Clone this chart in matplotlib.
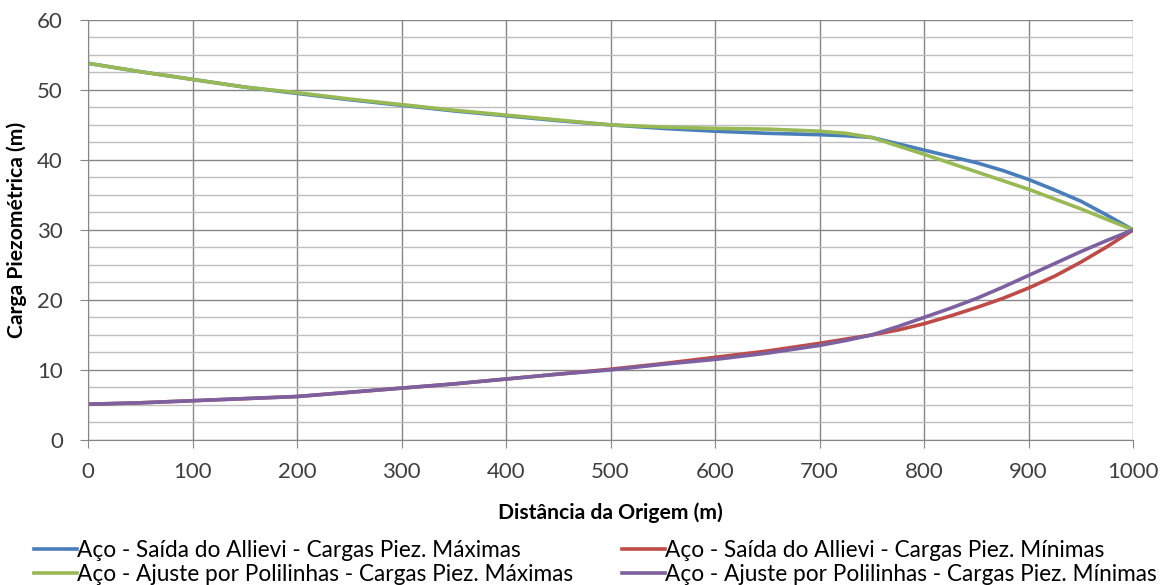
import matplotlib
matplotlib.use("Agg")
from matplotlib import pyplot as plt
from matplotlib.ticker import MultipleLocator

distancia = [0, 50, 100, 150, 200, 250, 300, 350, 400, 450, 500,
             550, 600, 650, 700, 725, 750, 775, 800, 825, 850, 875, 900,
             925, 950, 975, 1000]

allievi_max = [53.8, 52.6, 51.5, 50.4, 49.5, 48.6, 47.8, 47.0, 46.3, 45.6, 45.0,
               44.5, 44.1, 43.8, 43.6, 43.45, 43.2, 42.3, 41.4, 40.5, 39.6, 38.5, 37.2,
               35.7, 34.1, 32.1, 30.0]
allievi_min = [5.1, 5.3, 5.6, 5.9, 6.2, 6.8, 7.4, 8.0, 8.7, 9.4, 10.1,
               10.9, 11.8, 12.7, 13.8, 14.4, 15.0, 15.7, 16.6, 17.7, 18.9, 20.2, 21.7,
               23.4, 25.4, 27.6, 30.0]
polilinhas_max = [53.8, 52.6, 51.5, 50.4, 49.6, 48.7, 47.9, 47.1, 46.4, 45.7, 45.0,
                  44.7, 44.5, 44.4, 44.1, 43.8, 43.2, 42.0, 40.8, 39.55, 38.3, 37.05, 35.8,
                  34.4, 33.0, 31.5, 30.0]
polilinhas_min = [5.1, 5.3, 5.6, 5.9, 6.2, 6.8, 7.4, 8.0, 8.7, 9.4, 10.0,
                  10.8, 11.5, 12.4, 13.5, 14.2, 15.0, 16.2, 17.5, 18.8, 20.2, 21.8, 23.5,
                  25.2, 26.9, 28.5, 30.0]

rotulos = [
    "Aço - Saída do Allievi - Cargas Piez. Máximas",
    "Aço - Saída do Allievi - Cargas Piez. Mínimas",
    "Aço - Ajuste por Polilinhas - Cargas Piez. Máximas",
    "Aço - Ajuste por Polilinhas - Cargas Piez. Mínimas",
]

plt.rcParams['font.family'] = ['Lato', 'DejaVu Sans']

fig = plt.figure(figsize=(11.67, 5.85), dpi=100)
ax = fig.add_axes([0.0754, 0.248, 0.8956, 0.718])

l1, = ax.plot(distancia, allievi_max, color='#4A7EBB', lw=2.6)
l2, = ax.plot(distancia, allievi_min, color='#BE4B48', lw=2.6)
l3, = ax.plot(distancia, polilinhas_max, color='#98B954', lw=2.6)
l4, = ax.plot(distancia, polilinhas_min, color='#7D60A0', lw=2.6)

ax.set_xlim(0, 1000)
ax.set_ylim(0, 60)
ax.xaxis.set_major_locator(MultipleLocator(100))
ax.yaxis.set_major_locator(MultipleLocator(10))
ax.yaxis.set_minor_locator(MultipleLocator(2.5))
ax.grid(True, which='major', color='#868686', lw=1.0)
ax.grid(True, which='minor', axis='y', color='#BEBEBE', lw=1.0)
ax.set_axisbelow(True)
for s in ['top', 'right']:
    ax.spines[s].set_visible(False)
ax.spines['left'].set_color('#868686')
ax.spines['bottom'].set_color('#868686')
ax.tick_params(which='major', length=6, color='#868686', labelsize=16, labelcolor='#3F3F3F')
ax.tick_params(axis='x', pad=10)
ax.tick_params(axis='y', pad=12)
ax.tick_params(which='minor', length=0)

ax.set_xlabel("Distância da Origem (m)", fontsize=15.2, fontweight='bold')
ax.set_ylabel("Carga Piezométrica (m)", fontsize=15.2, fontweight='bold')
ax.xaxis.set_label_coords(0.5, -0.148)
ax.yaxis.set_label_coords(-0.058, 0.5)

opts = dict(loc='upper left', frameon=False, fontsize=16.3, handlelength=1.9,
            handletextpad=0.0, labelspacing=0.15, borderpad=0, borderaxespad=0)
fig.legend([l1, l3], [rotulos[0], rotulos[2]], bbox_to_anchor=(0.029, 0.077), **opts)
fig.legend([l2, l4], [rotulos[1], rotulos[3]], bbox_to_anchor=(0.533, 0.077), **opts)

fig.savefig("out.png", dpi=100)
